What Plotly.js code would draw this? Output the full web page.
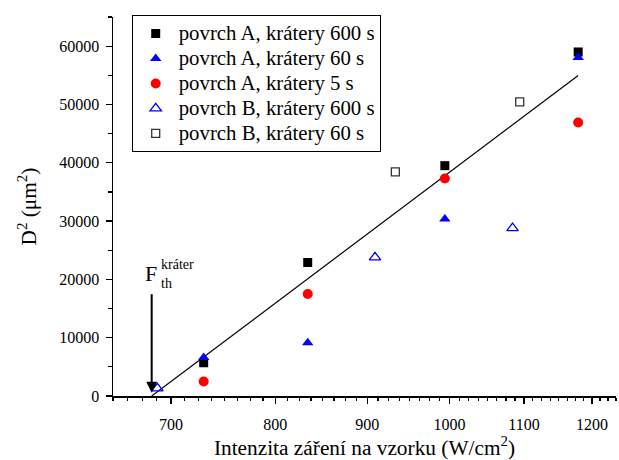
<!DOCTYPE html>
<html>
<head>
<meta charset="utf-8">
<script src="https://cdn.plot.ly/plotly-3.0.1.min.js"></script>
<style>
html,body{margin:0;padding:0;background:#fff;}
#chart{width:619px;height:460px;}
.legendtext{font-size:20.8px !important;}
</style>
</head>
<body>
<div id="chart"></div>
<script>
// ---- data ----
var xA = [730, 834, 994, 1179];               // povrch A intensities (W/cm2)
var yA600 = [5700, 22900, 39500, 59000];      // povrch A, krátery 600 s
var yA60 = [6600, 9150, 30340, 58060];        // povrch A, krátery 60 s
var yA5 = [2500, 17500, 37300, 46900];        // povrch A, krátery 5 s
var xB600 = [688, 909, 1084];                 // povrch B, krátery 600 s
var yB600 = [1300, 23780, 28800];
var xB60 = [933, 1094];                       // povrch B, krátery 60 s
var yB60 = [38450, 50450];
var xFit = [683, 1179];                       // fitted line
var yFit = [0, 54950];
var xTickVals = [700, 800, 900, 1000, 1100, 1200];
var xTickText = ['700', '800', '900', '1000', '1100', '1200'];
var names = ['povrch A, krátery 600 s', 'povrch A, krátery 60 s', 'povrch A, krátery 5 s',
             'povrch B, krátery 600 s', 'povrch B, krátery 60 s'];
var fThreshold = 683;

var FONT = 'Liberation Serif, Times New Roman, serif';

var minorX = [];
for (var v = 650; v <= 1237.5; v += 12.5) { if (v % 100 !== 0) minorX.push(v); }

var traces = [
  {x: xFit, y: yFit, mode: 'lines', line: {color: '#000', width: 1.2}, showlegend: false, hoverinfo: 'skip'},
  {x: xA, y: yA600, mode: 'markers', name: names[0], marker: {symbol: 'square', size: 9, color: '#000'}},
  {x: xA, y: yA60, mode: 'markers', name: names[1], marker: {symbol: 'triangle-up', size: 10, color: '#0000ff'}},
  {x: xA, y: yA5, mode: 'markers', name: names[2], marker: {symbol: 'circle', size: 10, color: '#ff0000'}},
  {x: xB600, y: yB600, mode: 'markers', name: names[3], marker: {symbol: 'triangle-up-open', size: 10, color: '#0000ff', line: {width: 1.3}}},
  {x: xB60, y: yB60, mode: 'markers', name: names[4], marker: {symbol: 'square-open', size: 8, color: '#333', line: {width: 1.3}}}
];

var layout = {
  width: 619, height: 460,
  margin: {l: 113, r: 3, t: 17, b: 64},
  paper_bgcolor: '#fff', plot_bgcolor: '#fff',
  font: {family: FONT, color: '#000', size: 16},
  showlegend: true,
  legend: {
    x: 0.0372, y: 1.0053, xanchor: 'left', yanchor: 'top',
    bordercolor: '#000', borderwidth: 1, bgcolor: '#fff',
    font: {family: FONT, size: 16.9, color: '#000'},
    itemwidth: 36, tracegroupgap: 0
  },
  xaxis: {
    type: 'log',
    range: [Math.log10(650), Math.log10(1237.5)],
    tickmode: 'array', tickvals: xTickVals, ticktext: xTickText,
    showline: true, linecolor: '#000', linewidth: 1.5,
    ticks: 'outside', ticklen: 6, tickwidth: 1.3, tickcolor: '#000',
    minor: {tickmode: 'array', tickvals: minorX, ticks: 'outside', ticklen: 3.5, tickwidth: 1.2, tickcolor: '#000'},
    showgrid: false, zeroline: false,
    tickfont: {family: FONT, size: 16, color: '#000'},
    ticklabelstandoff: 7,
    title: {text: 'Intenzita záření na vzorku (W/cm<sup>2</sup>)', font: {family: FONT, size: 21.33, color: '#000'}, standoff: 17}
  },
  yaxis: {
    range: [0, 65000],
    tickmode: 'linear', tick0: 0, dtick: 10000,
    showline: true, linecolor: '#000', linewidth: 1.5,
    ticks: 'outside', ticklen: 6, tickwidth: 1.3, tickcolor: '#000',
    minor: {dtick: 5000, ticks: 'outside', ticklen: 3.5, tickwidth: 1.2, tickcolor: '#000'},
    showgrid: false, zeroline: false,
    tickformat: 'd', separatethousands: false,
    tickfont: {family: FONT, size: 16, color: '#000'},
    ticklabelstandoff: 3,
    title: {text: 'D<sup>2</sup> (μm<sup>2</sup>)', font: {family: FONT, size: 21.33, color: '#000'}, standoff: 17}
  },
  shapes: [
    {type: 'line', xref: 'paper', yref: 'paper', x0: -0.014, x1: 0, y0: 0, y1: 0, line: {color: '#000', width: 1.5}}
  ],
  annotations: [
    {x: Math.log10(fThreshold), y: 570, xref: 'x', yref: 'y', ax: 0, ay: -100, axref: 'pixel', ayref: 'pixel',
     text: '', showarrow: true, arrowhead: 2, arrowsize: 1.1, arrowwidth: 2, arrowcolor: '#000', standoff: 0},
    {x: 2.8342, y: 20966, xref: 'x', yref: 'y', text: 'F', showarrow: false, xanchor: 'center', yanchor: 'middle',
     font: {family: FONT, size: 22, color: '#000'}},
    {x: 2.8386, y: 19252, xref: 'x', yref: 'y', text: 'th', showarrow: false, xanchor: 'left', yanchor: 'middle',
     font: {family: FONT, size: 14, color: '#000'}},
    {x: 2.8386, y: 22509, xref: 'x', yref: 'y', text: 'kráter', showarrow: false, xanchor: 'left', yanchor: 'middle',
     font: {family: FONT, size: 14, color: '#000'}}
  ]
};

Plotly.newPlot('chart', traces, layout, {displayModeBar: false, staticPlot: true});
</script>
</body>
</html>
